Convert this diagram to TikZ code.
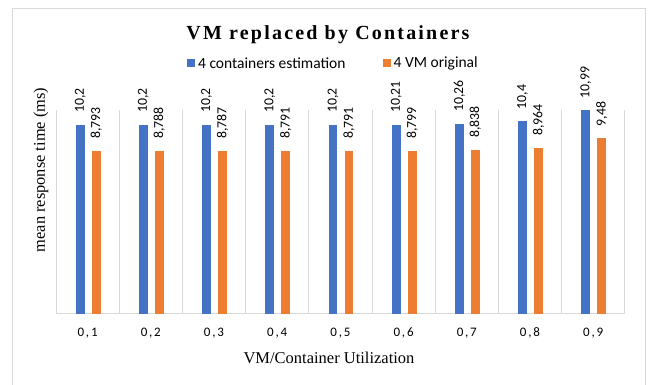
\documentclass[tikz,border=0pt]{standalone}
\usepackage{fontspec}
\setmainfont{Liberation Serif}
\newfontfamily\calfont{Carlito}
\newfontfamily\tickfont[LetterSpace=14]{Carlito}
\newfontfamily\titlefont[LetterSpace=11]{Liberation Serif Bold}
\definecolor{cblue}{HTML}{4472C4}
\definecolor{corange}{HTML}{ED7D31}
\definecolor{cgrid}{HTML}{D9D9D9}
\tikzset{
  barbox/.style={inner sep=0pt, outer sep=0pt, minimum width=8.7pt, anchor=south},
  bluebar/.style={barbox, fill=cblue},
  orangebar/.style={barbox, fill=corange},
  dlabel/.style={inner sep=0pt, rotate=90, anchor=west, font=\calfont\fontsize{13.8}{15}\selectfont},
  ticklabel/.style={inner sep=0pt, font=\tickfont\fontsize{13}{15}\selectfont},
  gridline/.style={draw=cgrid, line width=0.9pt},
  legsq/.style={inner sep=0pt, minimum size=7.5pt},
  legtext/.style={inner sep=0pt, anchor=west, font=\calfont\fontsize{15.5}{18}\selectfont}
}
\begin{document}
\begin{tikzpicture}[x=1pt, y=-1pt]
\useasboundingbox (0,0) rectangle (650,385);
% frame
\draw[cgrid, line width=1pt] (12,392) -- (12,8.5) -- (645,8.5) -- (645,392);
% title
\node[inner sep=0pt, font=\titlefont\fontsize{20}{24}\selectfont] (title) at (328,35) {VM replaced by Containers};
% legend
\node[legsq, fill=cblue] (lsb) at (191,63) {};
\node[legtext] (ltb) at (198,63) {4 containers estimation};
\node[legsq, fill=corange] (lso) at (387,63) {};
\node[legtext] (lto) at (393.5,63) {4 VM original};
% grid
\foreach \k in {0,...,9} {
  \coordinate (gt\k) at ({56+63.2*\k},110.2);
  \coordinate (gb\k) at ({56+63.2*\k},313.5);
  \draw[gridline] (gt\k) -- (gb\k);
}
\draw[gridline] (gb0) -- (gb9);
% bars
\foreach \i/\b/\bl/\o/\ol in {1/10.2/{10,2}/8.793/{8,793},2/10.2/{10,2}/8.788/{8,788},3/10.2/{10,2}/8.787/{8,787},4/10.2/{10,2}/8.791/{8,791},5/10.2/{10,2}/8.791/{8,791},6/10.21/{10,21}/8.799/{8,799},7/10.26/{10,26}/8.838/{8,838},8/10.4/{10,4}/8.964/{8,964},9/10.99/{10,99}/9.48/{9,48}} {
  \pgfmathsetmacro\c{56+63.2*(\i-0.5)+0.6}
  \pgfmathsetmacro\hb{18.48*\b}
  \pgfmathsetmacro\ho{18.48*\o}
  \node[bluebar, minimum height=\hb pt] (bb\i) at ({\c-8},313.5) {};
  \node[orangebar, minimum height=\ho pt] (ob\i) at ({\c+8},313.5) {};
  \node[dlabel] (lb\i) at ([yshift=12pt]bb\i.north) {\bl};
  \node[dlabel] (lo\i) at ([yshift=12pt]ob\i.north) {\ol};
  \pgfmathsetmacro\cc{56+63.2*(\i-0.5)}
  \node[ticklabel] (t\i) at (\cc,333) {0,\i};
}
% axis titles
\node[inner sep=0pt, font=\fontsize{16.5}{18}\selectfont] (xt) at (329,358) {VM/Container Utilization};
\node[inner sep=0pt, rotate=90, font=\fontsize{16.4}{18}\selectfont] (yt) at (41,170) {mean response time (ms)};
\end{tikzpicture}
\end{document}
